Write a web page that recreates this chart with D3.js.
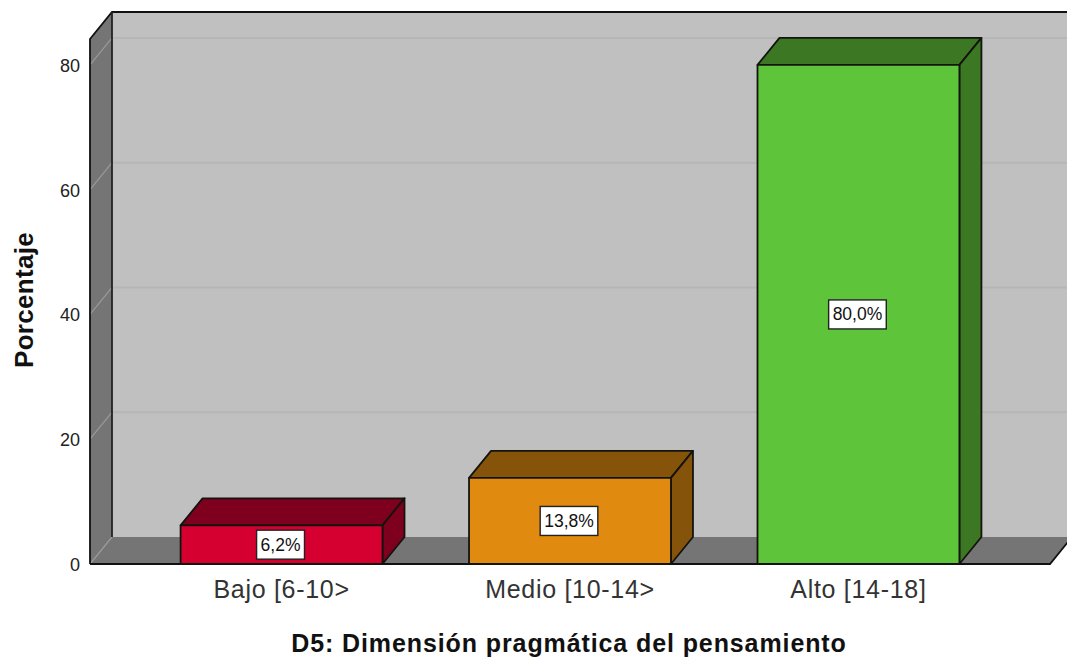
<!DOCTYPE html>
<html>
<head>
<meta charset="utf-8">
<script src="https://cdn.jsdelivr.net/npm/d3@7"></script>
<style>
  html, body { margin: 0; padding: 0; background: #fff; overflow: hidden; }
  text { font-family: "Liberation Sans", Arial, sans-serif; }
</style>
</head>
<body>
<svg id="chart" width="1067" height="658"></svg>
<script>
var categories = ['Bajo [6-10>', 'Medio [10-14>', 'Alto [14-18]'];
var percentages = [6.2, 13.8, 80.0];
var valueLabels = ['6,2%', '13,8%', '80,0%'];
var yTicks = [0, 20, 40, 60, 80];
var frontColors = ['#d60030', '#e08a10', '#5ec43a'];
var sideColors = ['#7e001e', '#85540a', '#3c7824'];

var svg = d3.select('#chart');

// how far the back wall is shifted from the front plane
var depthX = 22;
var depthY = -27;

var x = d3.scaleBand()
  .domain(categories)
  .range([90, 1050])
  .paddingInner(0.3)
  .paddingOuter(0.314);

var y = d3.scaleLinear()
  .domain([0, 84.15])
  .range([564, 39]);

var left = x.range()[0];
var right = x.range()[1];
var base = y(0);
var top3d = y.range()[1];

function poly(points, fill, stroke, width) {
  return svg.append('polygon')
    .attr('points', points.map(p => p.join(',')).join(' '))
    .attr('fill', fill)
    .attr('stroke', stroke || 'none')
    .attr('stroke-width', width || 0)
    .attr('stroke-linejoin', 'round');
}

// back wall
poly([[left + depthX, top3d + depthY], [right + depthX, top3d + depthY],
      [right + depthX, base + depthY], [left + depthX, base + depthY]], '#c0c0c0');

// side wall and floor
poly([[left, top3d], [left + depthX, top3d + depthY],
      [left + depthX, base + depthY], [left, base]], '#757575');
poly([[left, base], [left + depthX, base + depthY],
      [right + depthX, base + depthY], [right, base]], '#757575');

// gridlines, they bend around the side wall
yTicks.filter(d => d > 0).forEach(function(d) {
  svg.append('line')
    .attr('x1', left + depthX).attr('x2', right + depthX)
    .attr('y1', y(d) + depthY).attr('y2', y(d) + depthY)
    .attr('stroke', '#b6b6b6').attr('stroke-width', 2);
});
yTicks.forEach(function(d) {
  svg.append('line')
    .attr('x1', left).attr('x2', left + depthX)
    .attr('y1', y(d)).attr('y2', y(d) + depthY)
    .attr('stroke', '#9a9a9a').attr('stroke-width', 1.2);
});

// frame lines
var frame = d3.line();
svg.append('path')
  .attr('d', frame([[left, base], [left, top3d], [left + depthX, top3d + depthY], [1067, top3d + depthY]]))
  .attr('fill', 'none').attr('stroke', '#111').attr('stroke-width', 1.8);
svg.append('path')
  .attr('d', frame([[left + depthX, top3d + depthY], [left + depthX, base + depthY]]))
  .attr('fill', 'none').attr('stroke', '#222').attr('stroke-width', 1.8);
svg.append('path')
  .attr('d', frame([[left, base], [right, base], [right + depthX, base + depthY]]))
  .attr('fill', 'none').attr('stroke', '#111').attr('stroke-width', 1.8);

// bars
categories.forEach(function(c, i) {
  var x0 = x(c);
  var x1 = x0 + x.bandwidth();
  var yTop = y(percentages[i]);
  var g = { stroke: '#14140f', width: 1.8 };
  poly([[x0, yTop], [x0 + depthX, yTop + depthY], [x1 + depthX, yTop + depthY], [x1, yTop]],
    sideColors[i], g.stroke, g.width);
  poly([[x1, yTop], [x1 + depthX, yTop + depthY], [x1 + depthX, base + depthY], [x1, base]],
    sideColors[i], g.stroke, g.width);
  poly([[x0, yTop], [x1, yTop], [x1, base], [x0, base]],
    frontColors[i], g.stroke, g.width);
});

// value labels
categories.forEach(function(c, i) {
  var cx = x(c) + x.bandwidth() / 2 - 1;
  var cy = (y(percentages[i]) + base) / 2;
  var t = svg.append('text')
    .attr('x', cx).attr('y', cy + 6)
    .attr('text-anchor', 'middle')
    .attr('font-size', 17.5)
    .attr('fill', '#111')
    .text(valueLabels[i]);
  var b = t.node().getBBox();
  svg.insert('rect', function() { return t.node(); })
    .attr('x', b.x - 4).attr('y', cy - 14.5)
    .attr('width', b.width + 8).attr('height', 29)
    .attr('fill', '#fff').attr('stroke', '#222').attr('stroke-width', 1.4);
});

// y axis, only labels are visible
var yAxis = svg.append('g')
  .attr('transform', 'translate(' + left + ',0)')
  .call(d3.axisLeft(y).tickValues(yTicks).tickSize(0).tickPadding(10));
yAxis.select('.domain').remove();
yAxis.selectAll('line').remove();
yAxis.selectAll('text')
  .attr('dy', '0.36em')
  .attr('font-size', 18)
  .attr('font-family', '"Liberation Sans", Arial, sans-serif')
  .attr('fill', '#222');

// x axis labels
var xAxis = svg.append('g')
  .attr('transform', 'translate(0,' + base + ')')
  .call(d3.axisBottom(x).tickSize(0).tickPadding(16));
xAxis.select('.domain').remove();
xAxis.selectAll('text')
  .attr('font-size', 25)
  .attr('letter-spacing', 0.7)
  .attr('font-family', '"Liberation Sans", Arial, sans-serif')
  .attr('fill', '#333');

// axis titles
svg.append('text')
  .attr('x', 569).attr('y', 652)
  .attr('text-anchor', 'middle')
  .attr('font-size', 25)
  .attr('letter-spacing', 0.9)
  .attr('font-weight', 'bold')
  .attr('fill', '#111')
  .text('D5: Dimensión pragmática del pensamiento');

svg.append('text')
  .attr('transform', 'translate(33,300) rotate(-90)')
  .attr('text-anchor', 'middle')
  .attr('font-size', 26)
  .attr('letter-spacing', 0.3)
  .attr('font-weight', 'bold')
  .attr('fill', '#111')
  .text('Porcentaje');
</script>
</body>
</html>
